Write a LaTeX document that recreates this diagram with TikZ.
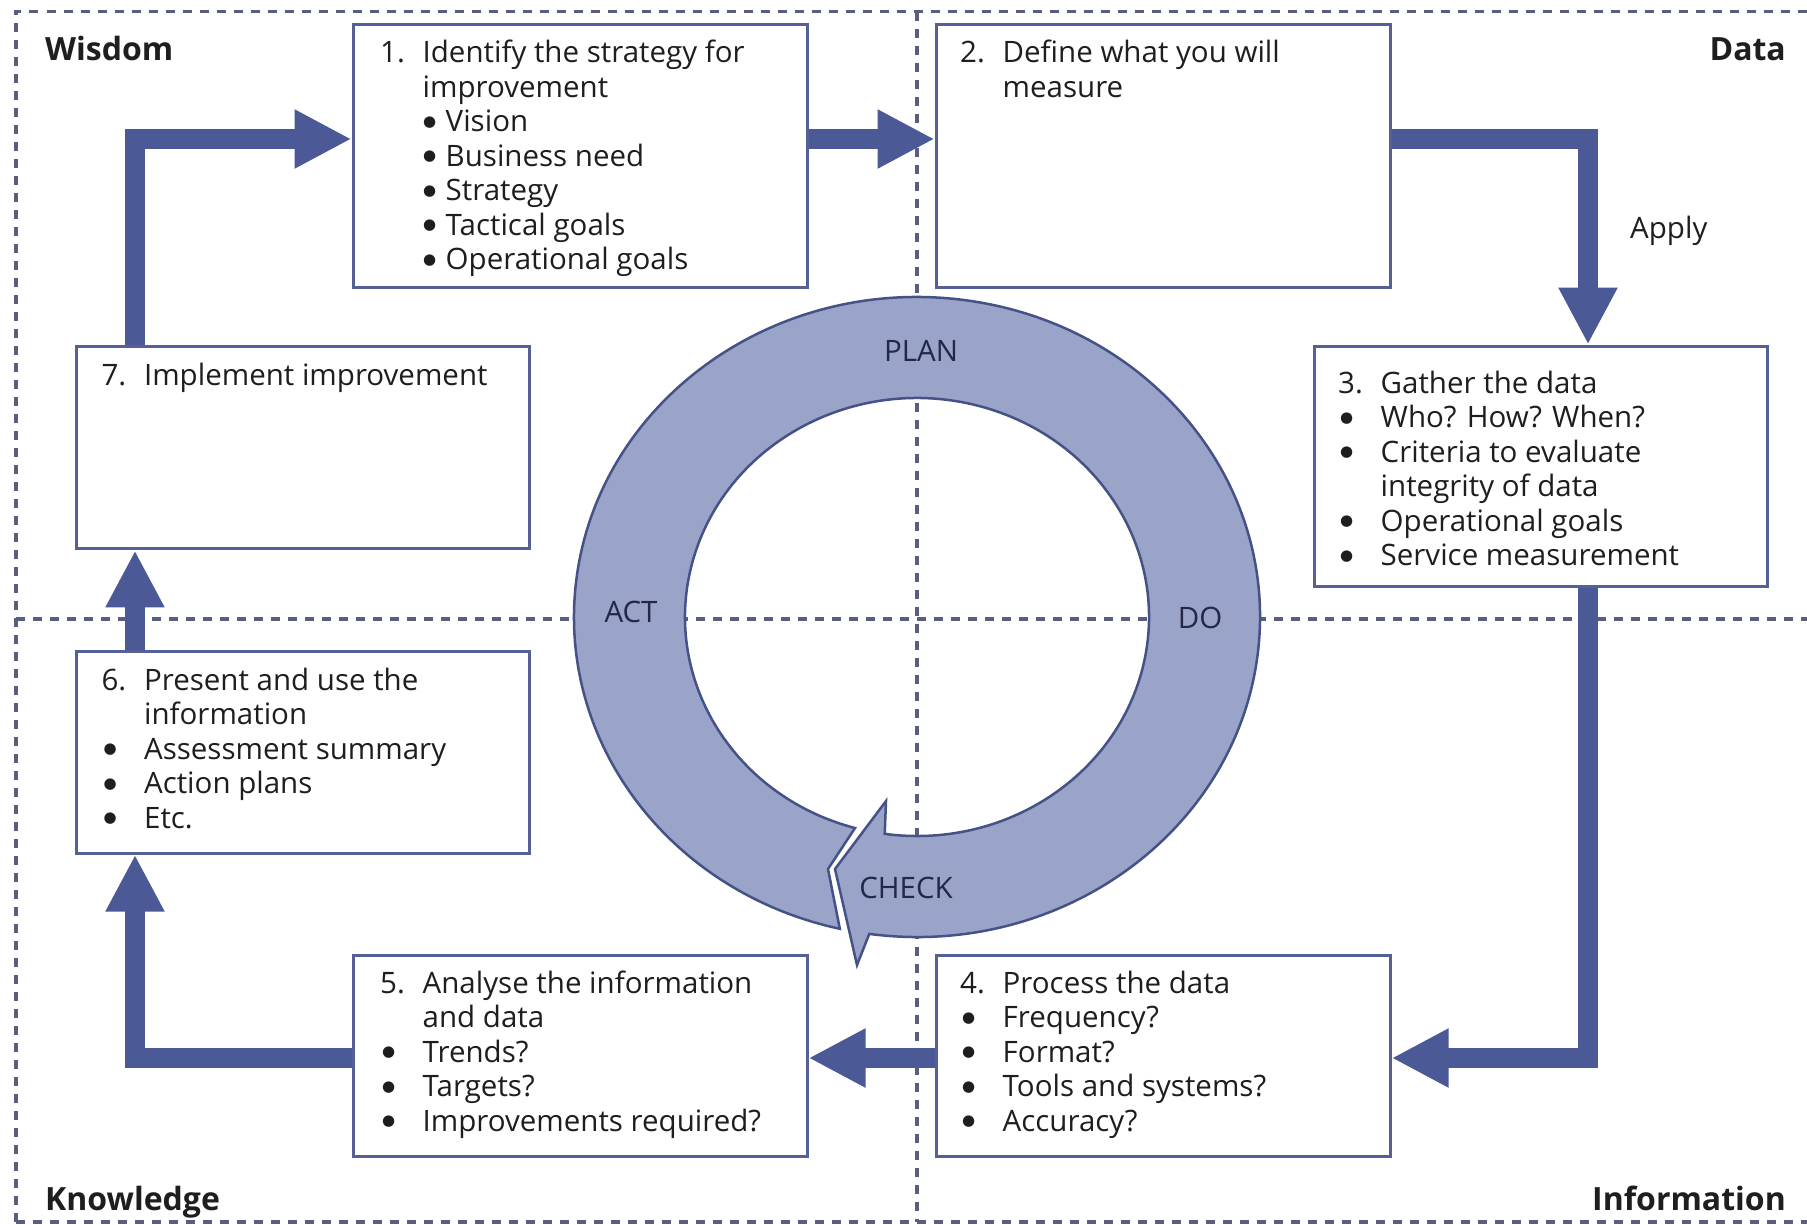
\documentclass[tikz,border=0pt]{standalone}
\usepackage{fontspec}
\setmainfont{Open Sans}
\newfontfamily\dejavu{DejaVu Sans}
\usetikzlibrary{arrows.meta,calc}
\definecolor{flowcol}{RGB}{75,90,150}
\definecolor{boxcol}{RGB}{85,96,150}
\definecolor{dashcol}{RGB}{88,94,128}
\definecolor{ringfill}{RGB}{154,163,200}
\definecolor{ringline}{RGB}{68,82,135}
\definecolor{txtcol}{RGB}{30,30,30}
\definecolor{ringtxt}{RGB}{35,40,70}
\newlength{\numw}\setlength{\numw}{42.5pt}
\newcommand{\dotb}{\raisebox{5.5pt}{\fontsize{15}{15}\dejavu ●}}
\newcommand{\nmb}[1]{\makebox[\numw][l]{#1}}
\newcommand{\ind}{\hspace*{\numw}}
\newcommand{\blt}{\makebox[\numw][l]{\hspace*{2pt}\dotb}}
\newcommand{\sblt}{\makebox[23pt][l]{\hspace*{0.5pt}\dotb}}
\begin{document}
\begin{tikzpicture}[x=1pt,y=1pt,
  box/.style={draw=boxcol,line width=3pt,fill=white,inner sep=0pt,anchor=north west},
  flow/.style={draw=flowcol,line width=20pt,line join=miter,-{Triangle[width=55pt,length=57pt]}},
  grid/.style={draw=dashcol,line width=3.5pt,dash pattern=on 9pt off 8pt},
  txt/.style={inner sep=0pt,anchor=base west,text=txtcol,font=\fontsize{29.5}{34.5}\selectfont},
  corner/.style={inner sep=0pt,text=txtcol,font=\fontsize{32}{36}\selectfont\bfseries},
  phase/.style={inner sep=0pt,anchor=base,text=ringtxt,font=\fontsize{29.5}{34}\selectfont}]
\useasboundingbox (0,0) rectangle (1807,-1224);
\fill[white] (0,0) rectangle (1807,-1224);

% quadrant grid
\draw[grid] (16,-1222) -- (16,-11.5) -- (1807,-11.5);
\draw[grid] (16,-1222) -- (1807,-1222);
\draw[grid] (16,-619) -- (1807,-619);
\draw[grid] (917,-11.5) -- (917,-1222);

% PDCA ring
\coordinate (c) at (917,-617);
\filldraw[fill=ringfill,draw=ringline,line width=2.5pt,line join=miter]
  ($(c)+(254.5:232 and 219)$)
  arc[start angle=254.5,end angle=-98,x radius=232,y radius=219]
  -- (886,-801) -- (835,-869) -- (857,-965)
  -- ($(c)+(-98:343 and 320)$)
  arc[start angle=-98,end angle=257,x radius=343,y radius=320]
  -- (828,-869) -- cycle;

% boxes
\node[box,minimum width=454pt,minimum height=263pt] (b1) at (351.5,-23) {};
\node[box,minimum width=454pt,minimum height=263pt] (b2) at (934.6,-23) {};
\node[box,minimum width=453pt,minimum height=240pt] (b3) at (1312.6,-344.6) {};
\node[box,minimum width=454pt,minimum height=201pt] (b4) at (934.6,-954) {};
\node[box,minimum width=454pt,minimum height=201pt] (b5) at (351.5,-954) {};
\node[box,minimum width=453pt,minimum height=201.6pt] (b6) at (74.9,-650) {};
\node[box,minimum width=453pt,minimum height=202.8pt] (b7) at (74.9,-344.6) {};

% connectors
\coordinate (k1) at (135,-139);
\coordinate (k2) at (1588,-139);
\coordinate (k3) at (1588,-1058);
\coordinate (k4) at (135,-1058);
\draw[flow] (b7.north -| k1) -- (k1) -- (b1.west |- k1);
\draw[flow] (b1.east |- k1) -- (b2.west |- k1);
\draw[flow] (b2.east |- k1) -- (k2) -- (b3.north -| k2);
\draw[flow] (b3.south -| k3) -- (k3) -- (b4.east |- k3);
\draw[flow] (b4.west |- k3) -- (b5.east |- k3);
\draw[flow] (b5.west |- k3) -- (k4) -- (b6.south -| k4);
\draw[flow] (b6.north -| k4) -- (b7.south -| k4);

% box texts
\node[txt] (t1) at (380,-62.7) {\begin{tabular}[t]{@{}l@{}}
\nmb{1.}Identify the strategy for\\
\ind improvement\\
\ind\sblt Vision\\
\ind\sblt Business need\\
\ind\sblt Strategy\\
\ind\sblt Tactical goals\\
\ind\sblt Operational goals
\end{tabular}};
\node[txt] (t2) at (960,-62.7) {\begin{tabular}[t]{@{}l@{}}
\nmb{2.}Define what you will\\
\ind measure
\end{tabular}};
\node[txt] (t3) at (1338,-393) {\begin{tabular}[t]{@{}l@{}}
\nmb{3.}Gather the data\\
\blt Who? How? When?\\
\blt Criteria to evaluate\\
\ind integrity of data\\
\blt Operational goals\\
\blt Service measurement
\end{tabular}};
\node[txt] (t4) at (960,-993) {\begin{tabular}[t]{@{}l@{}}
\nmb{4.}Process the data\\
\blt Frequency?\\
\blt Format?\\
\blt Tools and systems?\\
\blt Accuracy?
\end{tabular}};
\node[txt] (t5) at (380,-993) {\begin{tabular}[t]{@{}l@{}}
\nmb{5.}Analyse the information\\
\ind and data\\
\blt Trends?\\
\blt Targets?\\
\blt Improvements required?
\end{tabular}};
\node[txt] (t6) at (101.4,-690) {\begin{tabular}[t]{@{}l@{}}
\nmb{6.}Present and use the\\
\ind information\\
\blt Assessment summary\\
\blt Action plans\\
\blt Etc.
\end{tabular}};
\node[txt] (t7) at (101.4,-385.5) {\begin{tabular}[t]{@{}l@{}}
\nmb{7.}Implement improvement
\end{tabular}};

\node[txt] (apply) at (1630,-238) {Apply};

% ring labels
\node[phase] (plan) at (921,-361) {PLAN};
\node[phase] (do) at (1200,-628) {DO};
\node[phase] (check) at (906,-898) {CHECK};
\node[phase] (act) at (631,-622) {ACT};

% quadrant labels
\node[corner,anchor=base west] (wis) at (45,-60) {Wisdom};
\node[corner,anchor=base east] (dat) at (1786,-60) {Data};
\node[corner,anchor=base west] (kno) at (45,-1210) {Knowledge};
\node[corner,anchor=base east] (inf) at (1786,-1210) {Information};
\end{tikzpicture}
\end{document}
